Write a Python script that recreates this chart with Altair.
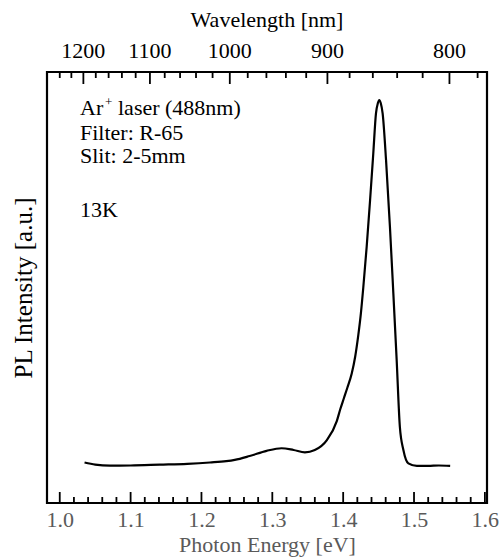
import altair as alt
import pandas as pd

# ---- data ----
energy = [1.035, 1.05, 1.071, 1.10, 1.141, 1.18, 1.212, 1.235, 1.247, 1.268, 1.292,
          1.313, 1.33, 1.346, 1.36, 1.377, 1.391, 1.396, 1.401, 1.406, 1.412, 1.417,
          1.4214, 1.425, 1.4284, 1.4332, 1.438, 1.4425, 1.4463, 1.449, 1.451, 1.453,
          1.4557, 1.4605, 1.466, 1.4708, 1.4755, 1.48, 1.485, 1.492, 1.504, 1.52,
          1.535, 1.551]
intensity = [0.094, 0.089, 0.0865, 0.087, 0.089, 0.091, 0.094, 0.097, 0.100, 0.109, 0.121,
             0.127, 0.123, 0.1176, 0.123, 0.146, 0.19, 0.218, 0.243, 0.268, 0.30, 0.34,
             0.39, 0.44, 0.50, 0.595, 0.703, 0.811, 0.904, 0.928, 0.935, 0.928,
             0.904, 0.796, 0.641, 0.487, 0.332, 0.177, 0.123, 0.092, 0.086, 0.086,
             0.087, 0.086]

energy_major_ticks = [1.0, 1.1, 1.2, 1.3, 1.4, 1.5, 1.6]
energy_minor_ticks = [1.02, 1.04, 1.06, 1.08, 1.12, 1.14, 1.16, 1.18, 1.22, 1.24, 1.26, 1.28,
                      1.32, 1.34, 1.36, 1.38, 1.42, 1.44, 1.46, 1.48, 1.52, 1.54, 1.56, 1.58]
wavelength_major_ticks = [1200, 1100, 1000, 900, 800]
wavelength_minor_ticks = [1240, 1220, 1180, 1160, 1140, 1120, 1080, 1060, 1040, 1020,
                          980, 960, 940, 920, 880, 860, 840, 820, 780]

HC = 1240.0  # eV*nm, photon energy <-> wavelength
W, H = 440, 431
FONT = "Liberation Serif"

xscale = alt.Scale(domain=[0.982, 1.603], nice=False, zero=False)
yscale = alt.Scale(domain=[0, 1], nice=False, zero=False)
xaxis = alt.Axis(orient="bottom", values=energy_major_ticks, format=".1f",
                 ticks=False, domain=False, grid=False, labelPadding=6,
                 labelFont=FONT, titleFont=FONT,
                 labelColor="#5a5a5a", titleColor="#5a5a5a", titleFontWeight="normal",
                 labelFontSize=22, titleFontSize=22, titlePadding=4,
                 title="Photon Energy [eV]")

def X():
    return alt.X("E:Q", scale=xscale, axis=xaxis)

spec_df = pd.DataFrame({"E": energy, "I": intensity})
ebig = pd.DataFrame({"E": energy_major_ticks})
esmall = pd.DataFrame({"E": energy_minor_ticks})
wbig = pd.DataFrame({"E": [HC / w for w in wavelength_major_ticks],
                     "label": [str(w) for w in wavelength_major_ticks]})
wsmall = pd.DataFrame({"E": [HC / w for w in wavelength_minor_ticks]})

line = alt.Chart(spec_df).mark_line(color="black", strokeWidth=2.2, interpolate="monotone").encode(
    x=X(),
    y=alt.Y("I:Q", scale=yscale,
            axis=alt.Axis(labels=False, ticks=False, domain=False, grid=False,
                          titleFont=FONT, titleColor="black",
                          title="PL Intensity [a.u.]", titleFontSize=25,
                          titleFontWeight="normal", titlePadding=11)),
)

def tick_layer(df, y1, y2):
    return alt.Chart(df).mark_rule(color="black", strokeWidth=1.8).encode(
        x=X(), y=alt.value(y1), y2=alt.value(y2))

top_labels = alt.Chart(wbig).mark_text(
    font=FONT, fontSize=22, color="black", align="center", baseline="alphabetic"
).encode(x=X(), y=alt.value(-14), text="label:N")

frame = alt.Chart(pd.DataFrame({"k": [0]})).mark_rect(
    fill=None, stroke="black", strokeWidth=2.2
).encode(x=alt.value(0), x2=alt.value(W), y=alt.value(0), y2=alt.value(H))

def note(text, x, y, size=22, align="left"):
    return alt.Chart(pd.DataFrame({"t": [text]})).mark_text(
        align=align, baseline="alphabetic", font=FONT, fontSize=size, color="black"
    ).encode(text="t:N", x=alt.value(x), y=alt.value(y))

layers = [
    line,
    tick_layer(ebig, H, H - 11),
    tick_layer(esmall, H, H - 6),
    tick_layer(wbig, 0, 12),
    tick_layer(wsmall, 0, 6),
    top_labels,
    frame,
    note("Wavelength [nm]", W / 2, -45, 22, "center"),
    note("Ar", 33, 43),
    note("+", 58, 34, 13),
    note("laser (488nm)", 71, 43),
    note("Filter: R-65", 33, 68),
    note("Slit: 2-5mm", 33, 91),
    note("13K", 33, 145),
]

chart = alt.layer(*layers).properties(
    width=W, height=H,
    autosize=alt.AutoSizeParams(type="none"),
    padding={"left": 47, "top": 72, "right": 17, "bottom": 56},
).configure(background="white").configure_view(stroke=None)

chart.save("out.html", embed_options={"renderer": "svg", "actions": False})
